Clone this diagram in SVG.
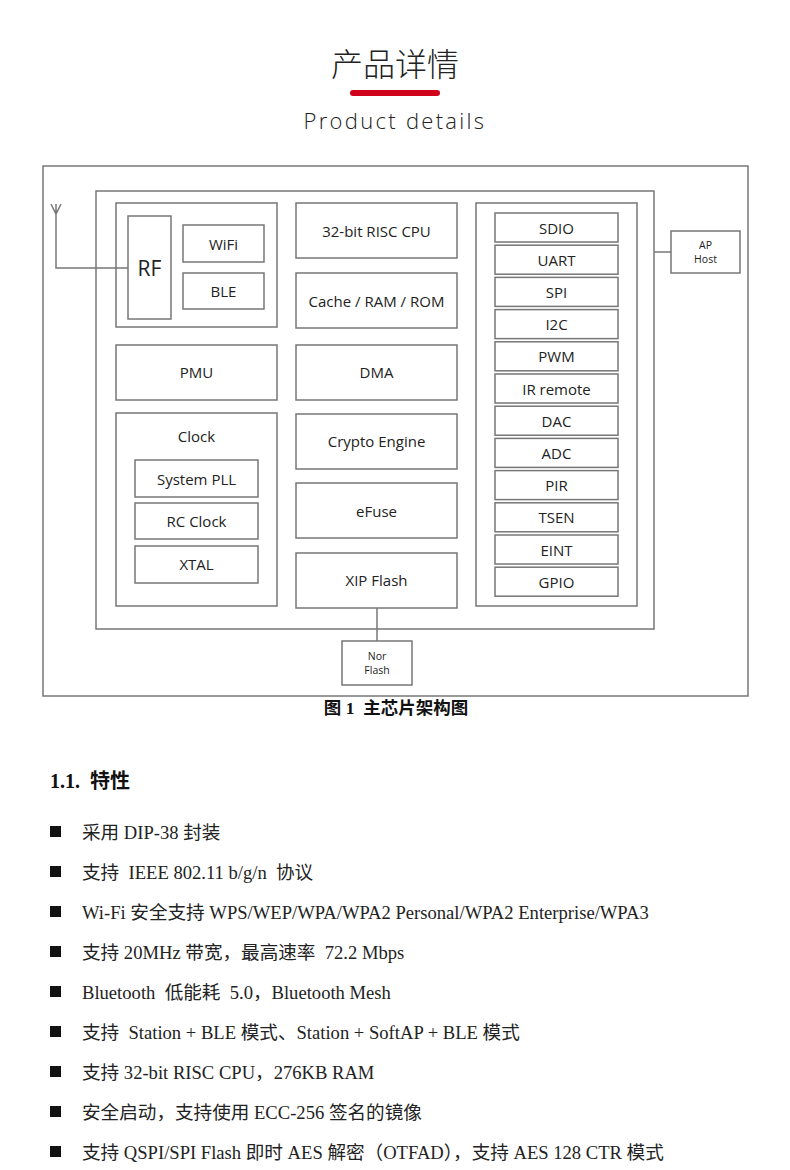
<svg xmlns="http://www.w3.org/2000/svg" width="790" height="1170" viewBox="0 0 790 1170">
<style>
.bx{fill:#fff;stroke:#777;stroke-width:1.5}
.ln{fill:none;stroke:#777;stroke-width:1.5}
.t{font-family:"Open Sans","Liberation Sans",sans-serif;font-size:15px;fill:#222;text-anchor:middle;dominant-baseline:central}
.s{font-size:10.5px}
.b{font-family:"Liberation Serif","Noto Sans CJK SC",serif;font-size:18.6px;fill:#222;white-space:pre}
</style>
<rect width="790" height="1170" fill="#fff"/>
<g id="header">
<text x="395" y="62" font-family="'Noto Sans CJK SC',sans-serif" font-size="32" font-weight="300" fill="#222" text-anchor="middle" dominant-baseline="central">产品详情</text>
<rect x="350" y="90" width="90" height="6" rx="3" fill="#d0021b"/>
<text x="395" y="120" font-family="'Open Sans','Liberation Sans',sans-serif" font-size="22" font-weight="300" letter-spacing="2.3" fill="#222" text-anchor="middle" dominant-baseline="central">Product details</text>
</g>
<g id="frame"><rect class="bx" x="43" y="166" width="705" height="530"/></g>
<g id="chip"><rect class="bx" x="96" y="191" width="558" height="438"/></g>
<g id="rf-group"><rect class="bx" x="116" y="203" width="161" height="124"/></g>
<g id="rf"><rect class="bx" x="128" y="216" width="43" height="103"/><text class="t" x="149.5" y="268" style="font-size:21px">RF</text></g>
<g id="wifi"><rect class="bx" x="183" y="225" width="81" height="37"/><text class="t" x="223.5" y="243.5">WiFi</text></g>
<g id="ble"><rect class="bx" x="183" y="273" width="81" height="36"/><text class="t" x="223.5" y="291">BLE</text></g>
<g id="cpu"><rect class="bx" x="296" y="203" width="161" height="55"/><text class="t" x="376.5" y="230.5">32-bit RISC CPU</text></g>
<g id="cache"><rect class="bx" x="296" y="273" width="161" height="55"/><text class="t" x="376.5" y="300.5">Cache / RAM / ROM</text></g>
<g id="pmu"><rect class="bx" x="116" y="345" width="161" height="55"/><text class="t" x="196.5" y="372">PMU</text></g>
<g id="dma"><rect class="bx" x="296" y="345" width="161" height="55"/><text class="t" x="376.5" y="372">DMA</text></g>
<g id="clock"><rect class="bx" x="116" y="413" width="161" height="193"/><text class="t" x="196.5" y="436">Clock</text></g>
<g id="syspll"><rect class="bx" x="135" y="460" width="123" height="37"/><text class="t" x="196.5" y="478.5">System PLL</text></g>
<g id="rcclock"><rect class="bx" x="135" y="503" width="123" height="36"/><text class="t" x="196.5" y="521">RC Clock</text></g>
<g id="xtal"><rect class="bx" x="135" y="546" width="123" height="37"/><text class="t" x="196.5" y="564">XTAL</text></g>
<g id="crypto"><rect class="bx" x="296" y="414" width="161" height="55"/><text class="t" x="376.5" y="441">Crypto Engine</text></g>
<g id="efuse"><rect class="bx" x="296" y="483" width="161" height="55"/><text class="t" x="376.5" y="510.5">eFuse</text></g>
<g id="xip"><rect class="bx" x="296" y="553" width="161" height="55"/><text class="t" x="376.5" y="580">XIP Flash</text></g>
<g id="periph"><rect class="bx" x="476" y="203" width="161" height="403"/></g>
<g id="sdio"><rect class="bx" x="495" y="213" width="123" height="29"/><text class="t" x="556.5" y="227.5">SDIO</text></g>
<g id="uart"><rect class="bx" x="495" y="245.2" width="123" height="29"/><text class="t" x="556.5" y="259.7">UART</text></g>
<g id="spi"><rect class="bx" x="495" y="277.4" width="123" height="29"/><text class="t" x="556.5" y="291.9">SPI</text></g>
<g id="i2c"><rect class="bx" x="495" y="309.6" width="123" height="29"/><text class="t" x="556.5" y="324.1">I2C</text></g>
<g id="pwm"><rect class="bx" x="495" y="341.8" width="123" height="29"/><text class="t" x="556.5" y="356.3">PWM</text></g>
<g id="ir"><rect class="bx" x="495" y="374" width="123" height="29"/><text class="t" x="556.5" y="388.5">IR remote</text></g>
<g id="dac"><rect class="bx" x="495" y="406.2" width="123" height="29"/><text class="t" x="556.5" y="420.7">DAC</text></g>
<g id="adc"><rect class="bx" x="495" y="438.4" width="123" height="29"/><text class="t" x="556.5" y="452.9">ADC</text></g>
<g id="pir"><rect class="bx" x="495" y="470.6" width="123" height="29"/><text class="t" x="556.5" y="485.1">PIR</text></g>
<g id="tsen"><rect class="bx" x="495" y="502.8" width="123" height="29"/><text class="t" x="556.5" y="517.3">TSEN</text></g>
<g id="eint"><rect class="bx" x="495" y="535" width="123" height="29"/><text class="t" x="556.5" y="549.5">EINT</text></g>
<g id="gpio"><rect class="bx" x="495" y="567.2" width="123" height="29"/><text class="t" x="556.5" y="581.7">GPIO</text></g>
<g id="aphost"><rect class="bx" x="671" y="231" width="69" height="42"/><text class="t s" x="705.5" y="245">AP</text><text class="t s" x="705.5" y="259">Host</text></g>
<g id="norflash"><rect class="bx" x="342" y="641" width="70" height="44"/><text class="t s" x="377" y="656">Nor</text><text class="t s" x="377" y="670">Flash</text></g>
<g id="connectors">
<path class="ln" d="M51 204 L56 214 L61 204 M56 204 V268 H128"/>
<path class="ln" d="M654 252 H671"/>
<path class="ln" d="M377 608 V641"/>
</g>
<text x="396" y="714" font-family="'Liberation Serif','Noto Sans CJK SC',serif" font-size="17.5" font-weight="bold" fill="#111" text-anchor="middle" style="white-space:pre">图 1  主芯片架构图</text>
<g id="features">
<text x="50" y="788" font-family="'Liberation Serif','Noto Sans CJK SC',serif" font-size="20" font-weight="bold" fill="#111" style="white-space:pre">1.1.  特性</text>
<g fill="#111">
<rect x="50" y="826" width="11" height="11"/>
<rect x="50" y="866" width="11" height="11"/>
<rect x="50" y="906" width="11" height="11"/>
<rect x="50" y="946" width="11" height="11"/>
<rect x="50" y="986" width="11" height="11"/>
<rect x="50" y="1026" width="11" height="11"/>
<rect x="50" y="1066" width="11" height="11"/>
<rect x="50" y="1106" width="11" height="11"/>
<rect x="50" y="1146" width="11" height="11"/>
</g>
<text class="b" x="82" y="839">采用 DIP-38 封装</text>
<text class="b" x="82" y="879">支持  IEEE 802.11 b/g/n  协议</text>
<text class="b" x="82" y="919">Wi-Fi 安全支持 WPS/WEP/WPA/WPA2 Personal/WPA2 Enterprise/WPA3</text>
<text class="b" x="82" y="959">支持 20MHz 带宽，最高速率  72.2 Mbps</text>
<text class="b" x="82" y="999">Bluetooth  低能耗  5.0，Bluetooth Mesh</text>
<text class="b" x="82" y="1039">支持  Station + BLE 模式、Station + SoftAP + BLE 模式</text>
<text class="b" x="82" y="1079">支持 32-bit RISC CPU，276KB RAM</text>
<text class="b" x="82" y="1119">安全启动，支持使用 ECC-256 签名的镜像</text>
<text class="b" x="82" y="1159">支持 QSPI/SPI Flash 即时 AES 解密（OTFAD），支持 AES 128 CTR 模式</text>
</g>
</svg>
